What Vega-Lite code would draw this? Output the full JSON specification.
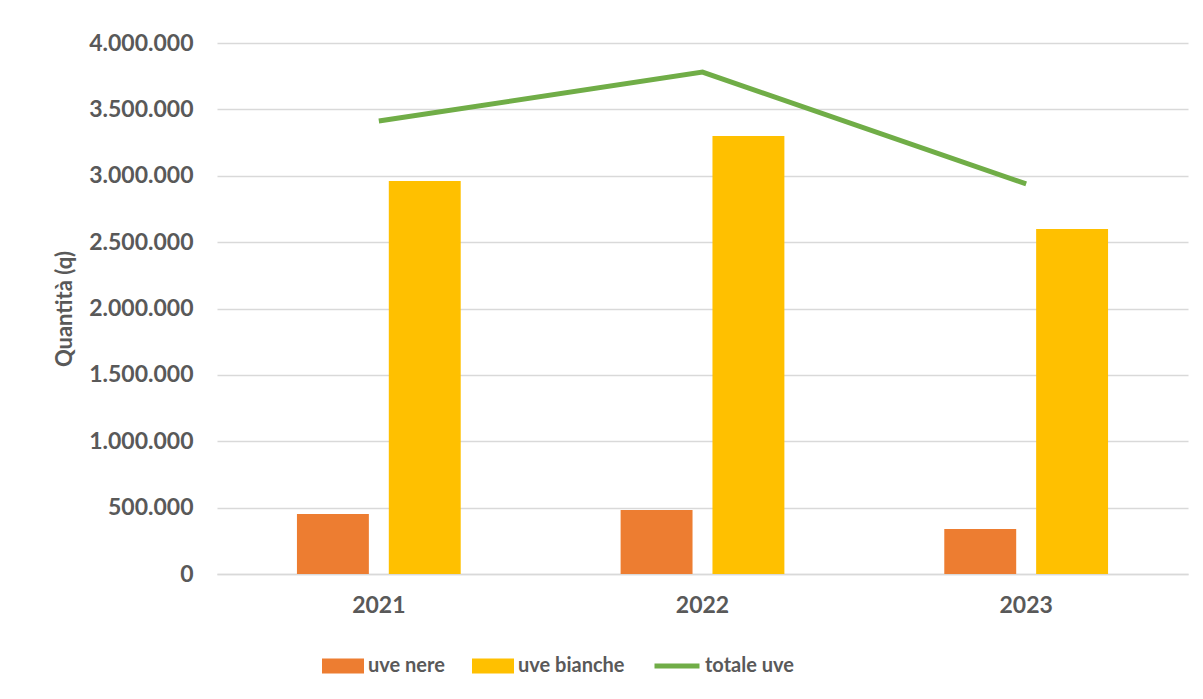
{
  "$schema": "https://vega.github.io/schema/vega-lite/v6.json",
  "width": 971,
  "height": 531,
  "autosize": {"type": "none"},
  "padding": {"left": 217, "top": 43, "right": 15, "bottom": 125},
  "background": "white",
  "config": {
    "locale": {"number": {"decimal": ",", "thousands": ".", "grouping": [3], "currency": ["€", ""]}},
    "font": "Lato",
    "view": {"stroke": null}
  },
  "datasets": {
    "bars": [
      {"anno": "2021", "tipo": "uve nere", "q": 452000},
      {"anno": "2021", "tipo": "uve bianche", "q": 2960000},
      {"anno": "2022", "tipo": "uve nere", "q": 482000},
      {"anno": "2022", "tipo": "uve bianche", "q": 3299000},
      {"anno": "2023", "tipo": "uve nere", "q": 339000},
      {"anno": "2023", "tipo": "uve bianche", "q": 2599000}
    ],
    "totali": [
      {"anno": "2021", "serie": "totale uve", "q": 3412000},
      {"anno": "2022", "serie": "totale uve", "q": 3781000},
      {"anno": "2023", "serie": "totale uve", "q": 2938000}
    ]
  },
  "layer": [
    {
      "data": {"name": "bars"},
      "mark": {"type": "bar"},
      "encoding": {
        "x": {
          "field": "anno", "type": "nominal",
          "scale": {"paddingInner": 0.494, "paddingOuter": 0.247},
          "axis": {
            "title": null, "labelAngle": 0, "ticks": false, "grid": false,
            "domain": true, "domainColor": "#D9D9D9", "domainWidth": 1.3,
            "labelFontSize": 23, "labelFontWeight": "bold", "labelColor": "#595959",
            "labelPadding": 20
          }
        },
        "xOffset": {
          "field": "tipo", "type": "nominal",
          "scale": {"domain": ["uve nere", "uve bianche"], "paddingInner": 0.217, "paddingOuter": 0}
        },
        "y": {
          "field": "q", "type": "quantitative",
          "scale": {"domain": [0, 4000000]},
          "title": "Quantità (q)",
          "axis": {
            "values": [0, 500000, 1000000, 1500000, 2000000, 2500000, 3000000, 3500000, 4000000],
            "format": ",.0f",
            "grid": true, "gridColor": "#D9D9D9", "gridWidth": 1.3,
            "domain": false, "ticks": false,
            "labelFontSize": 23, "labelFontWeight": "bold", "labelColor": "#595959",
            "labelPadding": 24,
            "titleFontSize": 22, "titleFontWeight": "bold", "titleColor": "#595959",
            "titlePadding": 12
          }
        },
        "fill": {
          "field": "tipo", "type": "nominal",
          "scale": {"domain": ["uve nere", "uve bianche"], "range": ["#ED7D31", "#FFC000"]},
          "legend": {
            "orient": "none", "legendX": 105, "legendY": 602, "direction": "horizontal",
            "title": null,
            "symbolType": "M-1,-0.357H1V0.357H-1Z", "symbolSize": 1764, "symbolStrokeWidth": 0,
            "labelFontSize": 20, "labelFontWeight": "bold", "labelColor": "#595959",
            "labelOffset": 4, "columnPadding": 27
          }
        }
      }
    },
    {
      "data": {"name": "totali"},
      "mark": {"type": "line", "strokeWidth": 5},
      "encoding": {
        "x": {"field": "anno", "type": "nominal"},
        "y": {"field": "q", "type": "quantitative"},
        "stroke": {
          "field": "serie", "type": "nominal",
          "scale": {"domain": ["totale uve"], "range": ["#70AD47"]},
          "legend": {
            "orient": "none", "legendX": 435, "legendY": 598, "direction": "horizontal",
            "title": null,
            "symbolType": "stroke", "symbolSize": 2025, "symbolStrokeWidth": 5,
            "labelFontSize": 20, "labelFontWeight": "bold", "labelColor": "#595959",
            "labelOffset": 3
          }
        }
      }
    }
  ]
}
